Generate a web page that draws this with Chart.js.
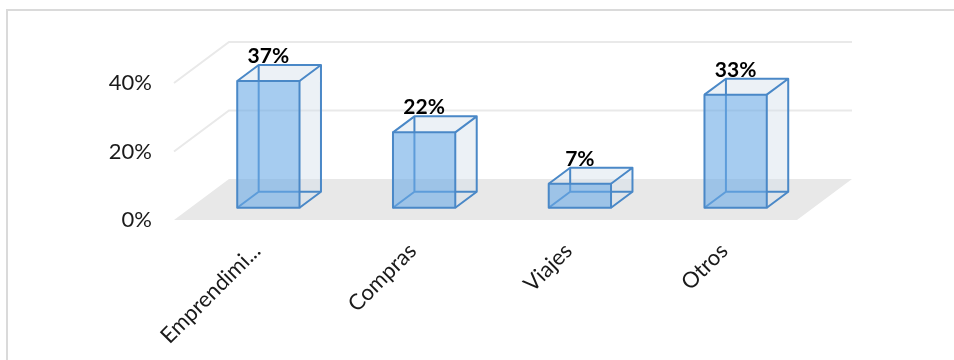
<!DOCTYPE html>
<html>
<head>
<meta charset="utf-8">
<script src="https://cdn.jsdelivr.net/npm/chart.js@4/dist/chart.umd.min.js"></script>
<style>
  html, body { margin: 0; padding: 0; background: #fff; }
  #wrap { position: relative; width: 954px; height: 360px; }
</style>
</head>
<body>
<div id="wrap"><canvas id="chart"></canvas></div>
<script>
// Data
const categories = ['Emprendimi...', 'Compras', 'Viajes', 'Otros'];
const shares = [37, 22, 7, 33];
const yTicks = [0, 20, 40];

// 3D look: depth of the floor and where the boxes sit inside it
const DEPTH = { dx: 55, dy: -41 };
const BAR_Z0 = 0.3, BAR_Z1 = 0.69;
const edgeColor = '#4a88c7';
const frontFill = 'rgba(107,170,230,0.6)';
const sideFill = 'rgba(210,222,234,0.42)';

const fake3d = {
    id: 'fake3d',
    beforeDraw(chart) {
        const ctx = chart.ctx;
        const { left, right } = chart.chartArea;
        const y = chart.scales.y;
        const base = y.getPixelForValue(0);
        ctx.save();
        // outer frame
        ctx.strokeStyle = '#dadada';
        ctx.lineWidth = 2;
        ctx.strokeRect(7, 10, 1000, 400);
        // floor
        ctx.fillStyle = '#e8e8e8';
        ctx.beginPath();
        ctx.moveTo(left, base);
        ctx.lineTo(right, base);
        ctx.lineTo(right + DEPTH.dx, base + DEPTH.dy);
        ctx.lineTo(left + DEPTH.dx, base + DEPTH.dy);
        ctx.closePath();
        ctx.fill();
        // side + back wall gridlines
        ctx.strokeStyle = '#e9e9e9';
        ctx.lineWidth = 2;
        yTicks.filter(v => v > 0).forEach(v => {
            const py = y.getPixelForValue(v);
            ctx.beginPath();
            ctx.moveTo(left, py);
            ctx.lineTo(left + DEPTH.dx, py + DEPTH.dy);
            ctx.lineTo(right + DEPTH.dx, py + DEPTH.dy);
            ctx.stroke();
        });
        ctx.restore();
    },
    afterDatasetsDraw(chart) {
        const ctx = chart.ctx;
        const meta = chart.getDatasetMeta(0);
        const ox = BAR_Z0 * DEPTH.dx, oy = BAR_Z0 * DEPTH.dy;
        const bx = (BAR_Z1 - BAR_Z0) * DEPTH.dx, by = (BAR_Z1 - BAR_Z0) * DEPTH.dy;
        ctx.save();
        ctx.lineJoin = 'round';
        meta.data.forEach((bar, i) => {
            const p = bar.getProps(['x', 'y', 'base', 'width'], true);
            const x0 = p.x - p.width / 2 + ox, x1 = p.x + p.width / 2 + ox;
            const top = p.y + oy, bot = p.base + oy;

            // top + right faces
            ctx.fillStyle = sideFill;
            ctx.beginPath();
            ctx.moveTo(x0, top);
            ctx.lineTo(x0 + bx, top + by);
            ctx.lineTo(x1 + bx, top + by);
            ctx.lineTo(x1 + bx, bot + by);
            ctx.lineTo(x1, bot);
            ctx.lineTo(x1, top);
            ctx.closePath();
            ctx.fill();

            // hidden edges seen through the glass
            ctx.strokeStyle = edgeColor;
            ctx.lineWidth = 2;
            ctx.beginPath();
            ctx.moveTo(x0 + bx, top + by);
            ctx.lineTo(x0 + bx, bot + by);
            ctx.lineTo(x1 + bx, bot + by);
            ctx.moveTo(x0, bot);
            ctx.lineTo(x0 + bx, bot + by);
            ctx.stroke();

            // front face
            ctx.fillStyle = frontFill;
            ctx.fillRect(x0, top, x1 - x0, bot - top);
            ctx.strokeRect(x0, top, x1 - x0, bot - top);

            // top and right outlines
            ctx.beginPath();
            ctx.moveTo(x0, top);
            ctx.lineTo(x0 + bx, top + by);
            ctx.lineTo(x1 + bx, top + by);
            ctx.lineTo(x1, top);
            ctx.moveTo(x1 + bx, top + by);
            ctx.lineTo(x1 + bx, bot + by);
            ctx.lineTo(x1, bot);
            ctx.stroke();

            // value label
            ctx.fillStyle = '#000';
            ctx.font = 'bold 21px Lato';
            ctx.textAlign = 'center';
            ctx.textBaseline = 'alphabetic';
            ctx.fillText(shares[i] + '%', p.x + ox, p.y + BAR_Z1 * DEPTH.dy - 2);
        });
        ctx.restore();
    }
};

new Chart(document.getElementById('chart').getContext('2d'), {
    type: 'bar',
    data: {
        labels: categories,
        datasets: [{
            data: shares,
            backgroundColor: 'rgba(0,0,0,0)',
            borderWidth: 0,
            categoryPercentage: 1,
            barPercentage: 0.4
        }]
    },
    options: {
        responsive: true,
        maintainAspectRatio: false,
        animation: false,
        layout: { padding: { top: 83, right: 157, left: 0, bottom: 0 } },
        plugins: { legend: { display: false }, tooltip: { enabled: false } },
        scales: {
            x: {
                grid: { display: false, drawTicks: false },
                border: { display: false },
                ticks: {
                    autoSkip: false,
                    minRotation: 45,
                    maxRotation: 45,
                    padding: 18,
                    labelOffset: 5,
                    color: '#1a1a1a',
                    font: { family: 'Lato', size: 22 }
                },
                afterFit: scale => { scale.height = 140; }
            },
            y: {
                min: 0,
                max: 40,
                grid: { display: false, drawTicks: false },
                border: { display: false },
                ticks: {
                    stepSize: 20,
                    padding: 22,
                    color: '#1a1a1a',
                    font: { family: 'Lato', size: 22 },
                    callback: v => v + '%'
                },
                afterFit: scale => { scale.width = 174; }
            }
        }
    },
    plugins: [fake3d]
});
</script>
</body>
</html>
